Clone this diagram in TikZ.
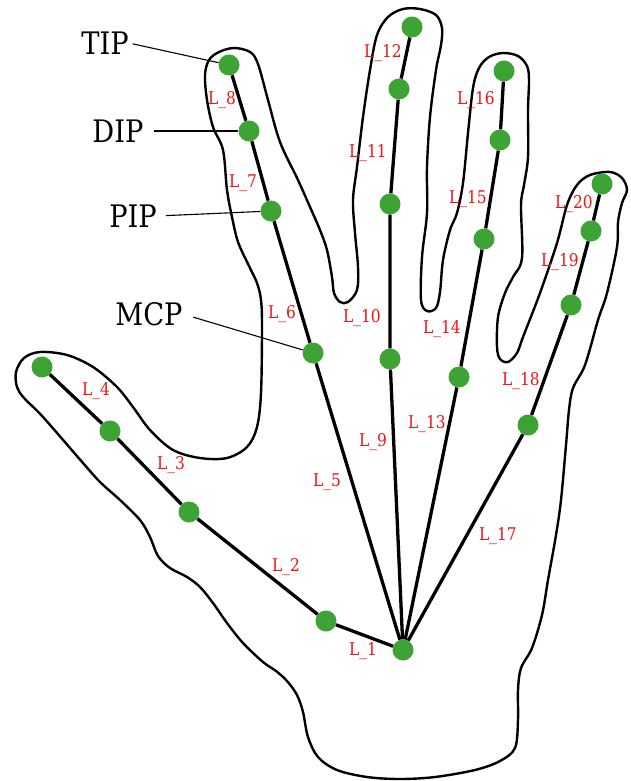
\documentclass[tikz,border=0pt]{standalone}
\usepackage{fontspec}
\setmainfont{Liberation Serif}
\newfontfamily\handfont[FakeStretch=0.88]{DejaVu Serif}
\definecolor{jointgreen}{RGB}{60,163,52}
\definecolor{bonered}{RGB}{240,20,20}
\begin{document}
\begin{tikzpicture}[x=1pt,y=-1pt,
  outline/.style={line width=2.4pt, line join=round},
  bone/.style={line width=3.3pt},
  joint/.style={circle, fill=jointgreen, minimum size=21pt, inner sep=0pt},
  seglabel/.style={text=bonered, font=\handfont\fontsize{17.5}{17.5}\selectfont, inner sep=0pt},
  jointname/.style={font=\handfont\fontsize{31}{31}\selectfont, inner sep=0pt},
  leader/.style={line width=1.1pt}]
\useasboundingbox (0,0) rectangle (631,781);

% hand outline
\draw[outline] plot[smooth cycle, tension=0.55] coordinates {
 (16,372) (24,358) (40,352) (67,355) (93,367) (117,387) (133,407) (150,430)
 (173,450) (200,458) (227,458) (247,447) (257,427) (261,393) (262,327)
 (261,300) (257,283) (249,266) (238,242) (232,217) (227,190) (223,150)
 (213,127) (207,100) (205,75) (209,60) (219,52) (234,48) (250,52) (258,64)
 (268,100) (280,142) (298,180) (310,207) (320,230) (327,250)
 (332,277) (334,293) (340,302) (348,302) (357,290) (358,267) (355,233)
 (353,200) (357,167) (363,117) (370,70) (377,35) (388,17) (403,9) (420,9)
 (436,15) (442,28) (441,45) (436,70) (430,117) (427,167) (427,213)
 (422,257) (421,300) (427,311) (436,308) (440,292) (443,260) (450,230)
 (457,213) (463,183) (468,133) (473,88) (479,68) (489,57) (503,53) (518,56)
 (527,66) (529,80) (528,110) (528,157) (524,185) (521,205) (522,258)
 (513,277) (505,293) (498,317) (497,347) (500,359) (508,362) (517,353)
 (523,337) (540,293) (557,243) (567,205) (577,185) (590,175) (610,172)
 (622,178) (627,190) (622,203) (618,222) (617,247) (607,293) (598,320)
 (585,365) (573,388) (569,410) (566,445) (561,500) (556,535) (548,580)
 (542,615) (532,648) (521,668) (518,690) (518,720) (515,748) (500,761)
 (475,770) (435,777) (400,779) (367,777) (337,770) (318,757) (308,737)
 (303,712) (297,695) (287,681) (276,671) (263,662) (243,643) (227,623)
 (213,603) (200,587) (187,577) (170,568) (158,556) (150,537) (140,520)
 (120,500) (100,482) (83,463) (43,417) (24,398) (17,387)};

% joints
\node[joint] (j0)  at (403,650) {};
\node[joint] (j1)  at (326,621) {};
\node[joint] (j2)  at (189,512) {};
\node[joint] (j3)  at (110,431) {};
\node[joint] (j4)  at (42,367)  {};
\node[joint] (j5)  at (313,353) {};
\node[joint] (j6)  at (271,211) {};
\node[joint] (j7)  at (249,131) {};
\node[joint] (j8)  at (229,65)  {};
\node[joint] (j9)  at (390,359) {};
\node[joint] (j10) at (390,204) {};
\node[joint] (j11) at (399,89)  {};
\node[joint] (j12) at (412,27)  {};
\node[joint] (j13) at (459,377) {};
\node[joint] (j14) at (484,239) {};
\node[joint] (j15) at (500,140) {};
\node[joint] (j16) at (504,71)  {};
\node[joint] (j17) at (528,425) {};
\node[joint] (j18) at (571,305) {};
\node[joint] (j19) at (591,231) {};
\node[joint] (j20) at (602,184) {};

% bones
\draw[bone] (j0) -- (j1) -- (j2) -- (j3) -- (j4);
\draw[bone] (j0) -- (j5) -- (j6) -- (j7) -- (j8);
\draw[bone] (j0) -- (j9) -- (j10) -- (j11) -- (j12);
\draw[bone] (j0) -- (j13) -- (j14) -- (j15) -- (j16);
\draw[bone] (j0) -- (j17) -- (j18) -- (j19) -- (j20);

% joint names
\node[jointname] (tip) at (105,43)  {TIP};
\node[jointname] (dip) at (118,131) {DIP};
\node[jointname] (pip) at (133,216) {PIP};
\node[jointname] (mcp) at (149,314) {MCP};
\draw[leader, shorten <=4pt]  (tip.east) -- (j8);
\draw[leader, shorten <=10pt] (dip.east) -- (j7);
\draw[leader, shorten <=9pt]  (pip.east) -- (j6);
\draw[leader, shorten <=11pt] (mcp.east) -- (j5);

% segment labels
\node[seglabel] (l1)  at (363,651) {L\_1};
\node[seglabel] (l2)  at (286,567) {L\_2};
\node[seglabel] (l3)  at (171,465) {L\_3};
\node[seglabel] (l4)  at (96,391)  {L\_4};
\node[seglabel] (l5)  at (327,482) {L\_5};
\node[seglabel] (l6)  at (282,314) {L\_6};
\node[seglabel] (l7)  at (243,183) {L\_7};
\node[seglabel] (l8)  at (222,100) {L\_8};
\node[seglabel] (l9)  at (373,442) {L\_9};
\node[seglabel] (l10) at (362,318) {L\_10};
\node[seglabel] (l11) at (368,153) {L\_11};
\node[seglabel] (l12) at (383,53)  {L\_12};
\node[seglabel] (l13) at (427,424) {L\_13};
\node[seglabel] (l14) at (442,329) {L\_14};
\node[seglabel] (l15) at (468,199) {L\_15};
\node[seglabel] (l16) at (476,100) {L\_16};
\node[seglabel] (l17) at (498,536) {L\_17};
\node[seglabel] (l18) at (521,381) {L\_18};
\node[seglabel] (l19) at (560,262) {L\_19};
\node[seglabel] (l20) at (574,204) {L\_20};
\end{tikzpicture}
\end{document}
